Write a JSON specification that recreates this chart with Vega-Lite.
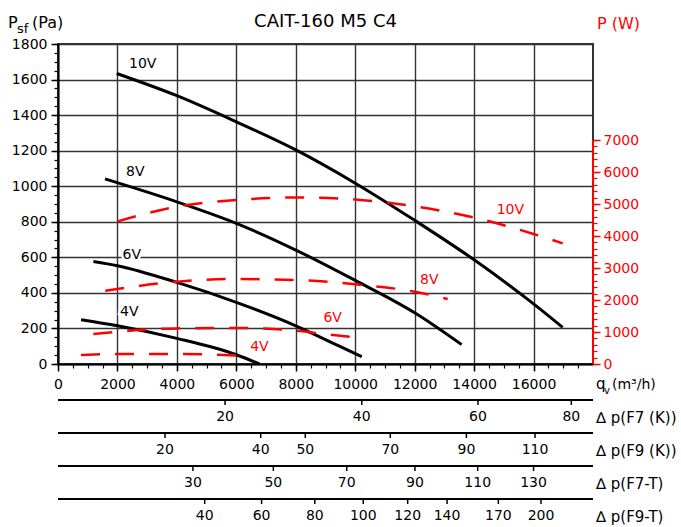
{
  "$schema": "https://vega.github.io/schema/vega-lite/v6.json",
  "background": "white",
  "padding": {"left": 7, "top": 12, "right": 0, "bottom": 0},
  "config": {
    "font": "DejaVu Sans",
    "view": {"stroke": "#333", "strokeWidth": 2},
    "axis": {"labelFont": "DejaVu Sans", "labelFontSize": 14, "labelColor": "black", "labelFlush": false, "labelOverlap": false}
  },
  "datasets": {
    "pressure": [
      {"speed": "10V", "q": 1975, "pa": 1634}, {"speed": "10V", "q": 4000, "pa": 1509}, {"speed": "10V", "q": 6000, "pa": 1362},
      {"speed": "10V", "q": 8000, "pa": 1204}, {"speed": "10V", "q": 10000, "pa": 1017}, {"speed": "10V", "q": 12000, "pa": 808},
      {"speed": "10V", "q": 14000, "pa": 586}, {"speed": "10V", "q": 16000, "pa": 338}, {"speed": "10V", "q": 16980, "pa": 206},
      {"speed": "8V", "q": 1580, "pa": 1041}, {"speed": "8V", "q": 4000, "pa": 912}, {"speed": "8V", "q": 6000, "pa": 791},
      {"speed": "8V", "q": 8000, "pa": 641}, {"speed": "8V", "q": 10000, "pa": 470}, {"speed": "8V", "q": 12000, "pa": 288},
      {"speed": "8V", "q": 13580, "pa": 109},
      {"speed": "6V", "q": 1190, "pa": 577}, {"speed": "6V", "q": 2000, "pa": 553}, {"speed": "6V", "q": 4000, "pa": 459},
      {"speed": "6V", "q": 6000, "pa": 347}, {"speed": "6V", "q": 8000, "pa": 215}, {"speed": "6V", "q": 9520, "pa": 96},
      {"speed": "6V", "q": 10220, "pa": 41},
      {"speed": "4V", "q": 775, "pa": 249}, {"speed": "4V", "q": 2000, "pa": 215}, {"speed": "4V", "q": 4000, "pa": 144},
      {"speed": "4V", "q": 6000, "pa": 52}, {"speed": "4V", "q": 6780, "pa": 0}
    ],
    "power": [
      {"speed": "10V", "q": 2000, "w": 4456}, {"speed": "10V", "q": 4000, "w": 4916}, {"speed": "10V", "q": 6000, "w": 5125},
      {"speed": "10V", "q": 8000, "w": 5206}, {"speed": "10V", "q": 10000, "w": 5140}, {"speed": "10V", "q": 12000, "w": 4925},
      {"speed": "10V", "q": 14000, "w": 4578}, {"speed": "10V", "q": 16000, "w": 4063}, {"speed": "10V", "q": 16980, "w": 3769},
      {"speed": "8V", "q": 1590, "w": 2290}, {"speed": "8V", "q": 4000, "w": 2572}, {"speed": "8V", "q": 6000, "w": 2656},
      {"speed": "8V", "q": 8000, "w": 2625}, {"speed": "8V", "q": 10000, "w": 2490}, {"speed": "8V", "q": 12000, "w": 2259},
      {"speed": "8V", "q": 13110, "w": 2031},
      {"speed": "6V", "q": 1190, "w": 937}, {"speed": "6V", "q": 4000, "w": 1113}, {"speed": "6V", "q": 6000, "w": 1125},
      {"speed": "6V", "q": 8000, "w": 1041}, {"speed": "6V", "q": 9130, "w": 916}, {"speed": "6V", "q": 10220, "w": 813},
      {"speed": "4V", "q": 775, "w": 281}, {"speed": "4V", "q": 2000, "w": 312}, {"speed": "4V", "q": 4000, "w": 312},
      {"speed": "4V", "q": 6000, "w": 269}, {"speed": "4V", "q": 6325, "w": 238}
    ],
    "plabels": [
      {"speed": "10V", "q": 2850, "pa": 1688}, {"speed": "8V", "q": 2600, "pa": 1078},
      {"speed": "6V", "q": 2480, "pa": 615}, {"speed": "4V", "q": 2400, "pa": 290}
    ],
    "wlabels": [
      {"speed": "10V", "q": 15220, "w": 4812}, {"speed": "8V", "q": 12490, "w": 2625},
      {"speed": "6V", "q": 9240, "w": 1425}, {"speed": "4V", "q": 6775, "w": 540}
    ],
    "strips": [
      {"filter": "F7K", "q": 5620, "dp": 20}, {"filter": "F7K", "q": 10220, "dp": 40}, {"filter": "F7K", "q": 14130, "dp": 60}, {"filter": "F7K", "q": 17270, "dp": 80},
      {"filter": "F9K", "q": 3600, "dp": 20}, {"filter": "F9K", "q": 6820, "dp": 40}, {"filter": "F9K", "q": 8320, "dp": 50}, {"filter": "F9K", "q": 11180, "dp": 70}, {"filter": "F9K", "q": 13740, "dp": 90}, {"filter": "F9K", "q": 16050, "dp": 110},
      {"filter": "F7T", "q": 4540, "dp": 30}, {"filter": "F7T", "q": 7245, "dp": 50}, {"filter": "F7T", "q": 9715, "dp": 70}, {"filter": "F7T", "q": 12010, "dp": 90}, {"filter": "F7T", "q": 14120, "dp": 110}, {"filter": "F7T", "q": 16000, "dp": 130},
      {"filter": "F9T", "q": 4935, "dp": 40}, {"filter": "F9T", "q": 6850, "dp": 60}, {"filter": "F9T", "q": 8640, "dp": 80}, {"filter": "F9T", "q": 10270, "dp": 100}, {"filter": "F9T", "q": 11765, "dp": 120}, {"filter": "F9T", "q": 13090, "dp": 140}, {"filter": "F9T", "q": 14815, "dp": 170}, {"filter": "F9T", "q": 16250, "dp": 200}
    ],
    "filters": [
      {"filter": "F7K", "label": "∆ p(F7 (K))"}, {"filter": "F9K", "label": "∆ p(F9 (K))"},
      {"filter": "F7T", "label": "∆ p(F7-T)"}, {"filter": "F9T", "label": "∆ p(F9-T)"}
    ]
  },
  "vconcat": [
    {
      "width": 535,
      "height": 320,
      "layer": [
        {
          "data": {"name": "pressure"},
          "mark": {"type": "line", "color": "black", "strokeWidth": 3, "interpolate": "monotone"},
          "encoding": {
            "x": {"field": "q", "type": "quantitative", "scale": {"domain": [0, 18000], "nice": false, "zero": false},
              "axis": {"orient": "bottom", "title": null, "values": [0, 2000, 4000, 6000, 8000, 10000, 12000, 14000, 16000], "format": "d",
                "grid": true, "gridColor": "#333", "gridWidth": 1.4, "tickSize": 7, "tickColor": "black", "tickWidth": 1.5,
                "domainColor": "black", "domainWidth": 2, "labelPadding": 6}},
            "y": {"field": "pa", "type": "quantitative", "scale": {"domain": [0, 1800], "nice": false},
              "axis": {"orient": "left", "title": null, "values": [0, 200, 400, 600, 800, 1000, 1200, 1400, 1600, 1800], "format": "d",
                "grid": true, "gridColor": "#333", "gridWidth": 1.4, "tickSize": 7, "tickColor": "black", "tickWidth": 1.5,
                "domainColor": "black", "domainWidth": 2, "labelPadding": 4}},
            "detail": {"field": "speed"}
          }
        },
        {
          "data": {"name": "plabels"},
          "mark": {"type": "text", "fontSize": 14, "color": "white", "stroke": "white", "strokeWidth": 5},
          "encoding": {
            "x": {"field": "q", "type": "quantitative", "scale": {"domain": [0, 18000], "nice": false, "zero": false}, "axis": null},
            "y": {"field": "pa", "type": "quantitative", "scale": {"domain": [0, 1800], "nice": false}, "axis": null},
            "text": {"field": "speed"}
          }
        },
        {
          "data": {"name": "plabels"},
          "mark": {"type": "text", "fontSize": 14, "color": "black"},
          "encoding": {
            "x": {"field": "q", "type": "quantitative", "scale": {"domain": [0, 18000], "nice": false, "zero": false},
              "axis": {"orient": "bottom", "title": null, "labels": false, "grid": false, "domain": false, "tickSize": 4, "tickColor": "black", "tickWidth": 1.2,
                "values": [0, 500, 1000, 1500, 2000, 2500, 3000, 3500, 4000, 4500, 5000, 5500, 6000, 6500, 7000, 7500, 8000, 8500, 9000, 9500, 10000, 10500, 11000, 11500, 12000, 12500, 13000, 13500, 14000, 14500, 15000, 15500, 16000, 16500, 17000, 17500]}},
            "y": {"field": "pa", "type": "quantitative", "scale": {"domain": [0, 1800], "nice": false},
              "axis": {"orient": "left", "title": null, "labels": false, "grid": false, "domain": false, "tickSize": 4, "tickColor": "black", "tickWidth": 1.2,
                "values": [0, 50, 100, 150, 200, 250, 300, 350, 400, 450, 500, 550, 600, 650, 700, 750, 800, 850, 900, 950, 1000, 1050, 1100, 1150, 1200, 1250, 1300, 1350, 1400, 1450, 1500, 1550, 1600, 1650, 1700, 1750, 1800]}},
            "text": {"field": "speed"}
          }
        },
        {
          "data": {"name": "power"},
          "mark": {"type": "line", "color": "#ff0000", "strokeWidth": 2.5, "strokeDash": [19, 15], "interpolate": "monotone"},
          "encoding": {
            "x": {"field": "q", "type": "quantitative", "scale": {"domain": [0, 18000], "nice": false, "zero": false}, "axis": null},
            "y": {"field": "w", "type": "quantitative", "scale": {"domain": [0, 10000], "nice": false},
              "axis": {"orient": "right", "title": null, "values": [0, 1000, 2000, 3000, 4000, 5000, 6000, 7000], "format": "d",
                "grid": false, "domain": false, "tickSize": 7, "tickColor": "#ff0000", "tickWidth": 1.5, "labelColor": "#ff0000", "labelPadding": 3}},
            "detail": {"field": "speed"}
          }
        },
        {
          "data": {"name": "wlabels"},
          "mark": {"type": "text", "fontSize": 14, "color": "#ff0000"},
          "encoding": {
            "x": {"field": "q", "type": "quantitative", "scale": {"domain": [0, 18000], "nice": false, "zero": false}, "axis": null},
            "y": {"field": "w", "type": "quantitative", "scale": {"domain": [0, 10000], "nice": false},
              "axis": {"orient": "right", "title": null, "labels": false, "grid": false, "domain": false, "tickSize": 4, "tickColor": "#ff0000", "tickWidth": 1.2,
                "values": [0, 200, 400, 600, 800, 1000, 1200, 1400, 1600, 1800, 2000, 2200, 2400, 2600, 2800, 3000, 3200, 3400, 3600, 3800, 4000, 4200, 4400, 4600, 4800, 5000, 5200, 5400, 5600, 5800, 6000, 6200, 6400, 6600, 6800, 7000]}},
            "text": {"field": "speed"}
          }
        },
        {
          "data": {"values": [{}]},
          "mark": {"type": "rule", "color": "#ff0000", "strokeWidth": 2},
          "encoding": {
            "x": {"datum": 18000, "type": "quantitative", "scale": {"domain": [0, 18000], "nice": false, "zero": false}, "axis": null},
            "y": {"datum": 0, "type": "quantitative", "scale": {"domain": [0, 10000], "nice": false}, "axis": null},
            "y2": {"datum": 7000}
          }
        },
        {
          "data": {"values": [{}]},
          "mark": {"type": "text", "text": "CAIT-160 M5 C4", "fontSize": 18, "align": "center", "baseline": "alphabetic", "dy": -17, "color": "black"},
          "encoding": {
            "x": {"datum": 9000, "type": "quantitative", "scale": {"domain": [0, 18000], "nice": false, "zero": false}, "axis": null},
            "y": {"datum": 1800, "type": "quantitative", "scale": {"domain": [0, 1800], "nice": false}, "axis": null}
          }
        },
        {
          "data": {"values": [{}]},
          "mark": {"type": "text", "text": "P", "fontSize": 16, "align": "left", "baseline": "alphabetic", "dx": -50, "dy": -16, "color": "black"},
          "encoding": {
            "x": {"datum": 0, "type": "quantitative", "scale": {"domain": [0, 18000], "nice": false, "zero": false}, "axis": null},
            "y": {"datum": 1800, "type": "quantitative", "scale": {"domain": [0, 1800], "nice": false}, "axis": null}
          }
        },
        {
          "data": {"values": [{}]},
          "mark": {"type": "text", "text": "sf", "fontSize": 13, "align": "left", "baseline": "alphabetic", "dx": -41, "dy": -11, "color": "black"},
          "encoding": {
            "x": {"datum": 0, "type": "quantitative", "scale": {"domain": [0, 18000], "nice": false, "zero": false}, "axis": null},
            "y": {"datum": 1800, "type": "quantitative", "scale": {"domain": [0, 1800], "nice": false}, "axis": null}
          }
        },
        {
          "data": {"values": [{}]},
          "mark": {"type": "text", "text": "(Pa)", "fontSize": 16, "align": "left", "baseline": "alphabetic", "dx": -26, "dy": -16, "color": "black"},
          "encoding": {
            "x": {"datum": 0, "type": "quantitative", "scale": {"domain": [0, 18000], "nice": false, "zero": false}, "axis": null},
            "y": {"datum": 1800, "type": "quantitative", "scale": {"domain": [0, 1800], "nice": false}, "axis": null}
          }
        },
        {
          "data": {"values": [{}]},
          "mark": {"type": "text", "text": "P (W)", "fontSize": 16, "align": "left", "baseline": "alphabetic", "dx": 4, "dy": -15, "color": "#ff0000"},
          "encoding": {
            "x": {"datum": 18000, "type": "quantitative", "scale": {"domain": [0, 18000], "nice": false, "zero": false}, "axis": null},
            "y": {"datum": 1800, "type": "quantitative", "scale": {"domain": [0, 1800], "nice": false}, "axis": null}
          }
        },
        {
          "data": {"values": [{}]},
          "mark": {"type": "text", "text": "q", "fontSize": 15, "align": "left", "baseline": "alphabetic", "dx": 3, "dy": 25, "color": "black"},
          "encoding": {
            "x": {"datum": 18000, "type": "quantitative", "scale": {"domain": [0, 18000], "nice": false, "zero": false}, "axis": null},
            "y": {"datum": 0, "type": "quantitative", "scale": {"domain": [0, 1800], "nice": false}, "axis": null}
          }
        },
        {
          "data": {"values": [{}]},
          "mark": {"type": "text", "text": "v", "fontSize": 10, "align": "left", "baseline": "alphabetic", "dx": 11, "dy": 30, "color": "black"},
          "encoding": {
            "x": {"datum": 18000, "type": "quantitative", "scale": {"domain": [0, 18000], "nice": false, "zero": false}, "axis": null},
            "y": {"datum": 0, "type": "quantitative", "scale": {"domain": [0, 1800], "nice": false}, "axis": null}
          }
        },
        {
          "data": {"values": [{}]},
          "mark": {"type": "text", "text": "(m³/h)", "fontSize": 14, "align": "left", "baseline": "alphabetic", "dx": 19, "dy": 25, "color": "black"},
          "encoding": {
            "x": {"datum": 18000, "type": "quantitative", "scale": {"domain": [0, 18000], "nice": false, "zero": false}, "axis": null},
            "y": {"datum": 0, "type": "quantitative", "scale": {"domain": [0, 1800], "nice": false}, "axis": null}
          }
        }
      ],
      "resolve": {"scale": {"y": "independent"}, "axis": {"x": "independent", "y": "independent"}}
    },
    {
      "width": 535,
      "height": 132,
      "view": {"stroke": null},
      "layer": [
        {
          "data": {"name": "filters"},
          "mark": {"type": "rule", "color": "black", "strokeWidth": 2},
          "encoding": {
            "x": {"datum": 0, "type": "quantitative", "scale": {"domain": [0, 18000], "nice": false, "zero": false}, "axis": null},
            "x2": {"datum": 18000},
            "y": {"field": "filter", "type": "nominal", "bandPosition": 0, "scale": {"domain": ["F7K", "F9K", "F7T", "F9T"], "paddingInner": 0, "paddingOuter": 0}, "axis": null}
          }
        },
        {
          "data": {"name": "strips"},
          "mark": {"type": "tick", "orient": "vertical", "size": 5, "thickness": 1.5, "yOffset": -14, "color": "black", "opacity": 1},
          "encoding": {
            "x": {"field": "q", "type": "quantitative", "scale": {"domain": [0, 18000], "nice": false, "zero": false}, "axis": null},
            "y": {"field": "filter", "type": "nominal", "scale": {"domain": ["F7K", "F9K", "F7T", "F9T"], "paddingInner": 0, "paddingOuter": 0}, "axis": null}
          }
        },
        {
          "data": {"name": "strips"},
          "mark": {"type": "text", "fontSize": 14, "baseline": "middle", "color": "black"},
          "encoding": {
            "x": {"field": "q", "type": "quantitative", "scale": {"domain": [0, 18000], "nice": false, "zero": false}, "axis": null},
            "y": {"field": "filter", "type": "nominal", "bandPosition": 0.53, "scale": {"domain": ["F7K", "F9K", "F7T", "F9T"], "paddingInner": 0, "paddingOuter": 0}, "axis": null},
            "text": {"field": "dp", "type": "quantitative"}
          }
        },
        {
          "data": {"name": "filters"},
          "mark": {"type": "text", "fontSize": 15, "baseline": "middle", "align": "left", "dx": 3, "color": "black"},
          "encoding": {
            "x": {"datum": 18000, "type": "quantitative", "scale": {"domain": [0, 18000], "nice": false, "zero": false}, "axis": null},
            "y": {"field": "filter", "type": "nominal", "bandPosition": 0.55, "scale": {"domain": ["F7K", "F9K", "F7T", "F9T"], "paddingInner": 0, "paddingOuter": 0}, "axis": null},
            "text": {"field": "label"}
          }
        }
      ]
    }
  ],
  "spacing": 36,
  "bounds": "flush"
}
